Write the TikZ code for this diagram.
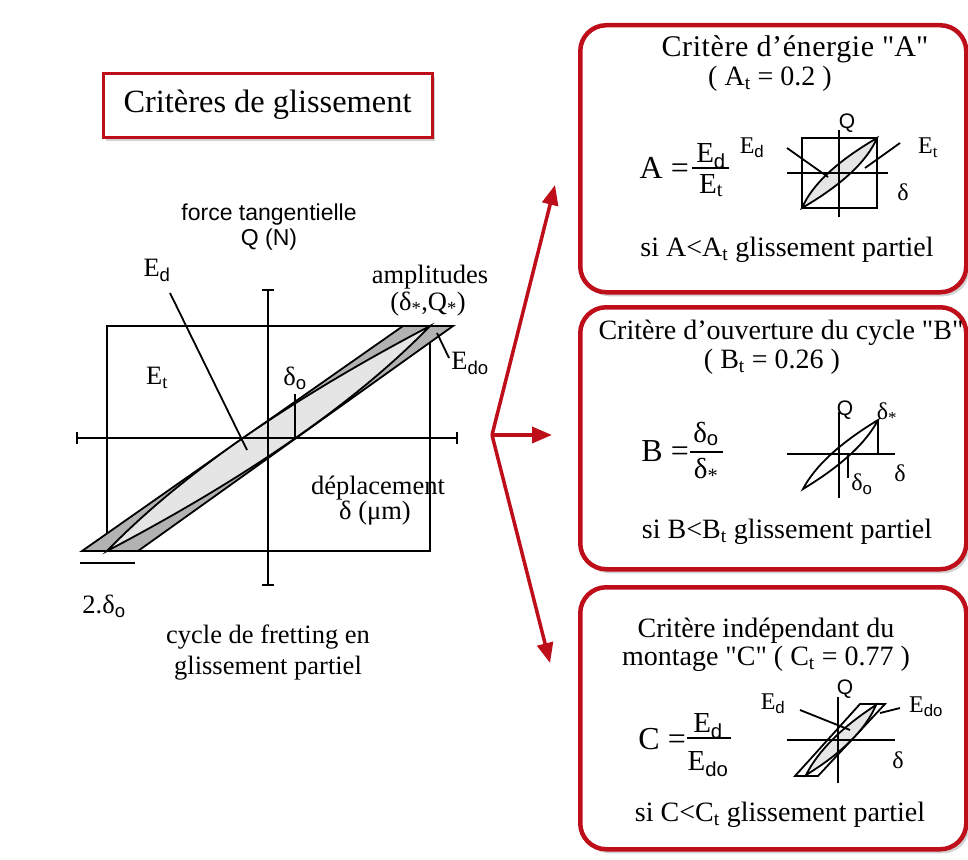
\documentclass[tikz,border=0pt]{standalone}
\usepackage{fontspec}
\setmainfont{Liberation Serif}
\newfontfamily\sansf{Liberation Sans}
\usetikzlibrary{arrows.meta,shadows}
\definecolor{bred}{RGB}{190,14,26}
\newcommand{\sbs}[1]{\textsubscript{\sansf #1}}
\newcommand{\qq}{\textquotedbl}
\begin{document}
\begin{tikzpicture}[x=1pt,y=-1pt,
  txt/.style={inner sep=0pt, font=\fontsize{26.5}{28}\selectfont},
  btxt/.style={inner sep=0pt, font=\fontsize{28}{30}\selectfont},
  eqtxt/.style={inner sep=0pt, font=\fontsize{32}{34}\selectfont},
  frtxt/.style={inner sep=0pt, font=\fontsize{29}{31}\selectfont},
  mtxt/.style={inner sep=0pt, font=\fontsize{24}{26}\selectfont},
  stxt/.style={inner sep=0pt, font=\sansf\fontsize{23}{25}\selectfont},
  qtxt/.style={inner sep=0pt, font=\sansf\fontsize{21}{23}\selectfont},
  ln/.style={line width=1.8pt, black},
  mln/.style={line width=1.8pt, black},
  barln/.style={line width=2.4pt, black},
  lensfill/.style={fill=gray!20},
  darkfill/.style={fill=gray!60},
  rbox/.style={draw=bred, line width=4.5pt, rounded corners=26pt, fill=white,
    drop shadow={shadow xshift=3pt, shadow yshift=-4pt, opacity=0.35}},
  arr/.style={draw=bred, line width=3.5pt, -{Triangle[length=20pt,width=16pt]}},
]
\useasboundingbox (0,0) rectangle (968,859);
\fill[white] (0,0) rectangle (968,859);

% ---------- title ----------
\node[draw=bred, line width=3pt, fill=white, minimum width=329pt, minimum height=64pt,
  drop shadow={shadow xshift=3pt, shadow yshift=-4pt, opacity=0.35},
  font=\fontsize{32.4}{34}\selectfont] (title) at (267.5,105) {Critères de glissement};

% ---------- main fretting cycle ----------
\draw[ln] (107,326) rectangle (430,551);
\filldraw[ln, darkfill] (82,551) -- (403,326) -- (453,326) -- (138,551) -- cycle;
\filldraw[ln, lensfill] (107,551) .. controls (179.7,476) and (287.3,401) .. (430,326)
   .. controls (357.3,401) and (249.7,476) .. (107,551) -- cycle;
% axes
\draw[ln] (77,438) -- (457,438);
\draw[ln] (77,432) -- (77,444);
\draw[ln] (457,432) -- (457,444);
\draw[ln] (268,290) -- (268,585);
\draw[ln] (262,290) -- (274,290);
\draw[ln] (262,585) -- (274,585);
% delta_o
\draw[ln] (295,438) -- (295,394);
% 2 delta_o
\coordinate (tw1) at (80,563);
\coordinate (tw2) at (135,563);
\draw[ln] (tw1) -- (tw2);

% labels
\node[stxt] (ft) at (269,215) {force tangentielle};
\node[stxt] (qn) at (269,240) {Q (N)};
\node[txt] (Ed) at (157,270) {E\sbs{d}};
\coordinate (EdS) at (170,293);
\coordinate (EdP) at (247,450);
\draw[ln] (EdS) -- (EdP);
\node[txt] (Et) at (157,378) {E\textsubscript{t}};
\node[txt] (amp) at (430,277) {amplitudes};
\node[txt] (dq) at (428,304) {(δ\textsubscript{*},Q\textsubscript{*})};
\node[txt] (Edo) at (470,363) {E\sbs{do}};
\coordinate (EdoS) at (449,358);
\coordinate (EdoP) at (437,333);
\draw[ln] (EdoS) -- (EdoP);
\node[txt] (d0) at (295,378) {δ\sbs{o}};
\node[txt] (dep) at (378,488) {déplacement};
\node[txt] (dum) at (375,513) {δ (μm)};
\node[txt] (two) at (104,606) {2.δ\sbs{o}};
\node[txt] (cyc1) at (268,637) {cycle de fretting en};
\node[txt] (cyc2) at (268,668) {glissement partiel};

% ---------- arrows ----------
\coordinate (hub) at (492,435);
\coordinate (tipA) at (555,185);
\coordinate (tipB) at (552,435);
\coordinate (tipC) at (550,663);
\draw[arr] (hub) -- (tipA);
\draw[arr] (hub) -- (tipB);
\draw[arr] (hub) -- (tipC);

% ---------- box A ----------
\node[rbox, minimum width=386pt, minimum height=267pt, anchor=north west] (boxA) at (578,23) {};
\node[btxt, font=\fontsize{30}{32}\selectfont\addfontfeature{LetterSpace=2}] (tA1) at (795,49) {Critère d'énergie \qq A\qq};
\node[btxt] (tA2) at (770,79) {( A\textsubscript{t} = 0.2 )};
\node[eqtxt, anchor=base east] (Aeq) at (689,178) {A =};
\node[frtxt, anchor=base] (Anum) at (711,162) {E\sbs{d}};
\node[frtxt, anchor=base] (Aden) at (711,193) {E\textsubscript{t}};
\coordinate (Ab1) at (692,168);
\coordinate (Ab2) at (729,168);
\draw[barln] (Ab1) -- (Ab2);
% mini A
\draw[mln] (802,138) rectangle (877,208);
\filldraw[mln, lensfill] (802,208) .. controls (812,184.7) and (837,161.3) .. (877,138)
   .. controls (867,161.3) and (842,184.7) .. (802,208) -- cycle;
\draw[mln] (839,130) -- (839,217);
\draw[mln] (787,173) -- (888,173);
\node[mtxt] (mAEd) at (752,148) {E\sbs{d}};
\coordinate (mAEd1) at (787,148);
\coordinate (mAEd2) at (828,177);
\draw[mln] (mAEd1) -- (mAEd2);
\node[mtxt] (mAEt) at (928,148) {E\textsubscript{t}};
\coordinate (mAEt1) at (900,143);
\coordinate (mAEt2) at (865,168);
\draw[mln] (mAEt1) -- (mAEt2);
\node[qtxt] (mAQ) at (847,123) {Q};
\node[mtxt] (mAd) at (903,192) {δ};
\node[btxt] (tA3) at (787,250) {si A<A\textsubscript{t} glissement partiel};

% ---------- box B ----------
\node[rbox, minimum width=386pt, minimum height=262pt, anchor=north west] (boxB) at (578,305) {};
\node[btxt] (tB1) at (781,333) {Critère d'ouverture du cycle \qq B\qq};
\node[btxt] (tB2) at (772,362) {( B\textsubscript{t} = 0.26 )};
\node[eqtxt, anchor=base east] (Beq) at (689,461) {B =};
\node[frtxt, anchor=base] (Bnum) at (706,442) {δ\sbs{o}};
\node[frtxt, anchor=base] (Bden) at (706,478) {δ\textsubscript{*}};
\coordinate (Bb1) at (690,452);
\coordinate (Bb2) at (723,452);
\draw[barln] (Bb1) -- (Bb2);
% mini B
\filldraw[mln, fill=white] (803,489) .. controls (815,466) and (840,443) .. (878,420)
   .. controls (866,443) and (841,466) .. (803,489) -- cycle;
\draw[mln] (839,412) -- (839,498);
\draw[mln] (787,454) -- (895,454);
\draw[mln] (878,420) -- (878,454);
\draw[mln] (848,454) -- (848,478);
\node[mtxt] (mBd0) at (862,484) {δ\sbs{o}};
\node[mtxt] (mBds) at (887,413) {δ\textsubscript{*}};
\node[qtxt] (mBQ) at (845,410) {Q};
\node[mtxt] (mBd) at (900,473) {δ};
\node[btxt] (tB3) at (787,532) {si B<B\textsubscript{t} glissement partiel};

% ---------- box C ----------
\node[rbox, minimum width=386pt, minimum height=262pt, anchor=north west] (boxC) at (578,585) {};
\node[btxt] (tC1) at (766,631) {Critère indépendant du};
\node[btxt] (tC2) at (766,659) {montage \qq C\qq{} ( C\textsubscript{t} = 0.77 )};
\node[eqtxt, anchor=base east] (Ceq) at (686,749) {C =};
\node[frtxt, anchor=base] (Cnum) at (708,732) {E\sbs{d}};
\node[frtxt, anchor=base] (Cden) at (708,770) {E\sbs{do}};
\coordinate (Cb1) at (687,738);
\coordinate (Cb2) at (731,738);
\draw[barln] (Cb1) -- (Cb2);
% mini C
\draw[mln, fill=white] (795,776) -- (860,704) -- (885,704) -- (818,776) -- cycle;
\filldraw[mln, lensfill] (806,775) .. controls (818,751) and (842,727) .. (876,705)
   .. controls (866,729) and (842,753) .. (806,775) -- cycle;
\draw[mln] (838,697) -- (838,783);
\draw[mln] (787,740) -- (895,740);
\node[mtxt] (mCEd) at (773,704) {E\sbs{d}};
\coordinate (mCEd1) at (800,710);
\coordinate (mCEd2) at (850,730);
\draw[mln] (mCEd1) -- (mCEd2);
\node[mtxt] (mCEdo) at (926,707) {E\sbs{do}};
\coordinate (mCEdo1) at (900,708);
\coordinate (mCEdo2) at (880,713);
\draw[mln] (mCEdo1) -- (mCEdo2);
\node[qtxt] (mCQ) at (845,689) {Q};
\node[mtxt] (mCd) at (898,760) {δ};
\node[btxt] (tC3) at (780,815) {si C<C\textsubscript{t} glissement partiel};
\end{tikzpicture}
\end{document}
